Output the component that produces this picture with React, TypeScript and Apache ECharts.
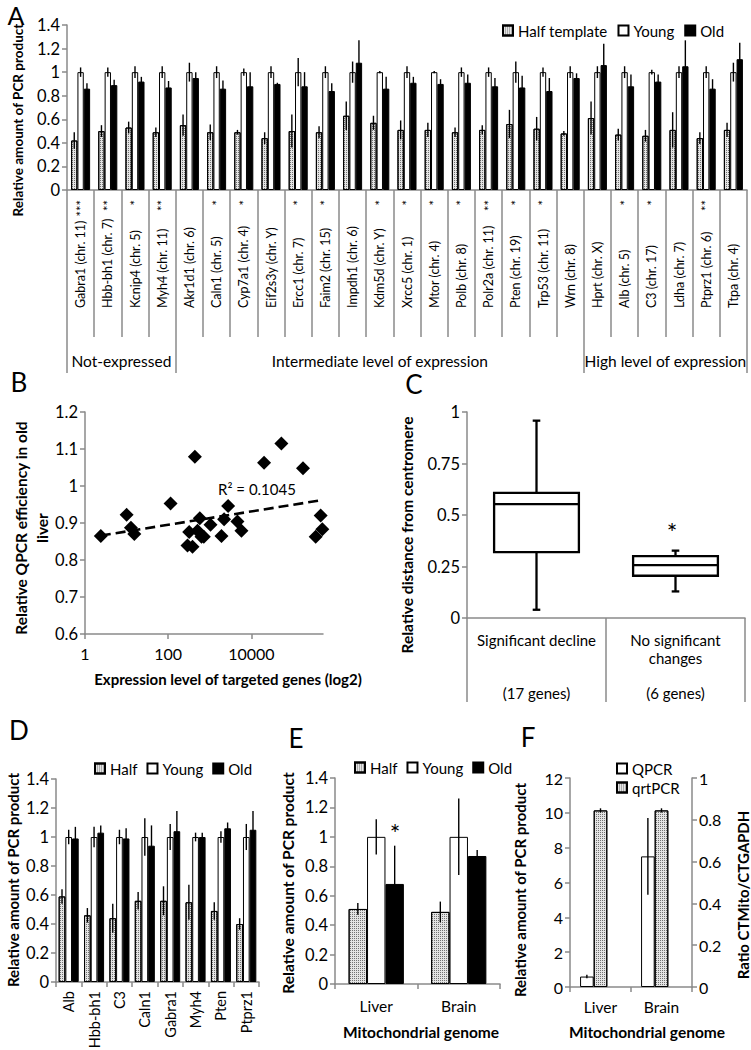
import React, { useEffect, useRef } from "react";
import * as echarts from "echarts";

const FONT = "Lato, 'Noto Sans', 'DejaVu Sans', sans-serif";
const GRAY = "#8a8a8a";

/* ---------- Panel A ---------- */
const genesA = [
  "Gabra1 (chr. 11)", "Hbb-bh1 (chr. 7)", "Kcnip4 (chr. 5)", "Myh4 (chr. 11)",
  "Akr1d1 (chr. 6)", "Caln1 (chr. 5)", "Cyp7a1 (chr. 4)", "Eif2s3y (chr. Y)", "Ercc1 (chr. 7)",
  "Faim2 (chr. 15)", "Impdh1 (chr. 6)", "Kdm5d (chr. Y)", "Xrcc5 (chr. 1)", "Mtor (chr. 4)",
  "Polb (chr. 8)", "Polr2a (chr. 11)", "Pten (chr. 19)", "Trp53 (chr. 11)", "Wrn (chr. 8)",
  "Hprt (chr. X)", "Alb (chr. 5)", "C3 (chr. 17)", "Ldha (chr. 7)", "Ptprz1 (chr. 6)", "Ttpa (chr. 4)",
];
const starsA = ["***", "**", "*", "**", "", "*", "*", "", "*", "*", "", "*", "*", "*", "*", "**", "*", "*", "", "", "*", "*", "", "**", ""];
const groupNamesA = ["Not-expressed", "Intermediate level of expression", "High level of expression"];
const groupSizesA = [4, 15, 6];
const halfA = [0.42, 0.50, 0.53, 0.49, 0.55, 0.49, 0.49, 0.44, 0.50, 0.49, 0.63, 0.57, 0.51, 0.51, 0.49, 0.51, 0.56, 0.52, 0.48, 0.61, 0.47, 0.46, 0.51, 0.44, 0.51];
const halfErrA = [0.07, 0.05, 0.05, 0.04, 0.09, 0.065, 0.02, 0.05, 0.14, 0.05, 0.12, 0.06, 0.08, 0.06, 0.04, 0.04, 0.12, 0.10, 0.02, 0.14, 0.05, 0.05, 0.15, 0.05, 0.06];
const youngA = [1, 1, 1, 1, 1, 1, 1, 1, 1, 1, 1, 1, 1, 1, 1, 1, 1, 1, 1, 1, 1, 1, 1, 1, 1];
const youngErrA = [0.04, 0.04, 0.05, 0.05, 0.08, 0.05, 0.03, 0.05, 0.12, 0.05, 0.09, 0.01, 0.05, 0.01, 0.04, 0.04, 0.09, 0.04, 0.05, 0.05, 0.05, 0.02, 0.05, 0.05, 0.08];
const oldA = [0.86, 0.89, 0.92, 0.87, 0.95, 0.86, 0.88, 0.90, 0.88, 0.84, 1.08, 0.86, 0.91, 0.90, 0.91, 0.88, 0.87, 0.84, 0.95, 1.06, 0.88, 0.92, 1.05, 0.86, 1.11];
const oldErrA = [0.045, 0.045, 0.04, 0.055, 0.05, 0.07, 0.12, 0.01, 0.12, 0.065, 0.19, 0.10, 0.05, 0.04, 0.07, 0.07, 0.10, 0.11, 0.04, 0.18, 0.10, 0.06, 0.22, 0.08, 0.14];

/* ---------- Panel B ---------- */
const exprB = [2.4, 10, 12.7, 15.3, 114, 319, 291, 384, 437, 575, 506, 631, 718, 1038, 1905, 2203, 2754, 4613, 5754, 20140, 52480, 173780, 349950, 461000, 505800];
const effB = [0.865, 0.922, 0.887, 0.870, 0.953, 0.876, 0.839, 0.836, 1.079, 0.913, 0.879, 0.863, 0.863, 0.895, 0.865, 0.910, 0.946, 0.904, 0.879, 1.063, 1.115, 1.048, 0.863, 0.920, 0.883];
const trendXB = [2.4, 505800];
const trendYB = [0.866, 0.962];
const r2B = "R² = 0.1045";

/* ---------- Panel C ---------- */
const groupsC = ["Significant decline", "No significant\nchanges"];
const countsC = ["(17 genes)", "(6 genes)"];
const minC = [0.04, 0.129];
const q1C = [0.32, 0.205];
const medC = [0.553, 0.257];
const q3C = [0.607, 0.30];
const maxC = [0.958, 0.327];

/* ---------- Panel D ---------- */
const genesD = ["Alb", "Hbb-bh1", "C3", "Caln1", "Gabra1", "Myh4", "Pten", "Ptprz1"];
const halfD = [0.59, 0.46, 0.44, 0.56, 0.56, 0.55, 0.49, 0.40];
const halfErrD = [0.05, 0.05, 0.10, 0.06, 0.10, 0.12, 0.06, 0.04];
const youngD = [1, 1, 1, 1, 1, 1, 1, 1];
const youngErrD = [0.05, 0.07, 0.05, 0.13, 0.09, 0.03, 0.04, 0.09];
const oldD = [0.99, 1.03, 0.99, 0.94, 1.04, 1.00, 1.06, 1.05];
const oldErrD = [0.08, 0.05, 0.07, 0.14, 0.14, 0.03, 0.04, 0.13];

/* ---------- Panel E ---------- */
const tissuesE = ["Liver", "Brain"];
const halfE = [0.51, 0.49];
const halfErrE = [0.04, 0.07];
const youngE = [1, 1];
const youngErrE = [0.12, 0.26];
const oldE = [0.68, 0.87];
const oldErrE = [0.26, 0.04];

/* ---------- Panel F ---------- */
const tissuesF = ["Liver", "Brain"];
const qpcrF = [0.6, 7.5];
const qpcrErrF = [0.1, 2.2];
const qrtF = [0.845, 0.845];
const qrtErrF = [0.01, 0.01];

const lineGray = { color: GRAY, width: 1.5 };

const halfStyle = {
  color: "#e4e4e4",
  borderColor: "#000",
  borderWidth: 1,
  decal: {
    symbol: "rect",
    symbolSize: 1,
    color: "rgba(0,0,0,0.5)",
    dashArrayX: [1, 1],
    dashArrayY: [1, 1],
    rotation: 0,
  },
};
const youngStyle = { color: "#fff", borderColor: "#000", borderWidth: 1 };
const oldStyle = { color: "#000", borderColor: "#000", borderWidth: 1 };

function barS(name: string, xi: number, yi: number, data: any[], style: any, gap: string) {
  return {
    type: "bar", name, xAxisIndex: xi, yAxisIndex: yi, data, itemStyle: style,
    barGap: "0%", barCategoryGap: gap, silent: true,
  };
}

function errS(xi: number, yi: number, vals: number[], errs: number[], slot: number, nSlots: number, gapFrac: number) {
  return {
    type: "custom", xAxisIndex: xi, yAxisIndex: yi, silent: true, z: 5,
    encode: { x: 0, y: 1 },
    data: vals.map((v, i) => [i, v, errs[i]]),
    renderItem: (params: any, api: any) => {
      const i = api.value(0), v = api.value(1), e = api.value(2);
      const band = api.size([1, 0])[0];
      const bw = (band * (1 - gapFrac)) / nSlots;
      const off = (slot - (nSlots - 1) / 2) * bw;
      const p1 = api.coord([i, v + e]);
      const p2 = api.coord([i, v - e]);
      const x = p1[0] + off;
      return {
        type: "line",
        shape: { x1: x, y1: p1[1], x2: x, y2: p2[1] },
        style: { stroke: "#000", lineWidth: 1.4 },
      };
    },
  };
}

function yVal(gridIndex: number, min: number, max: number, interval: number, fontSize: number, extra: any = {}) {
  return {
    type: "value", gridIndex, min, max, interval,
    axisLine: { show: true, onZero: false, lineStyle: lineGray },
    axisTick: { show: true, length: 5, lineStyle: lineGray },
    splitLine: { show: false },
    axisLabel: { color: "#000", fontFamily: FONT, fontSize, margin: 7 },
    ...extra,
  };
}

function catX(gridIndex: number, data: string[], tickLen: number, label: any, extra: any = {}) {
  return {
    type: "category", gridIndex, data,
    axisLine: { show: true, onZero: false, lineStyle: lineGray },
    axisTick: { show: true, interval: 0, length: tickLen, lineStyle: lineGray },
    splitLine: { show: false },
    axisLabel: { color: "#000", fontFamily: FONT, interval: 0, ...label },
    ...extra,
  };
}

function T(text: string, x: number, y: number, size: number, bold = false, rot = false, align = "center") {
  return {
    type: "text", x, y, rotation: rot ? Math.PI / 2 : 0, silent: true,
    style: {
      text, fill: "#000",
      font: `${bold ? "bold " : ""}${size}px ${FONT}`,
      align, verticalAlign: "middle",
    },
  };
}

function buildOption() {
  const bounds: number[] = [0];
  groupSizesA.forEach((s) => bounds.push(bounds[bounds.length - 1] + s));
  const centers = groupSizesA.map((s, i) => bounds[i] + s / 2);

  const catLabelsC = groupsC.map((g, i) => {
    const lines = g.split("\n");
    while (lines.length < 3) lines.push("");
    return lines.join("\n") + "\n" + countsC[i];
  });

  const grids = [
    { left: 67, top: 25, width: 680, height: 165 },
    { left: 85, top: 412, width: 238, height: 222 },
    { left: 467, top: 412, width: 278, height: 206 },
    { left: 56, top: 779, width: 203, height: 203 },
    { left: 335, top: 778, width: 165, height: 206 },
    { left: 570, top: 778, width: 122, height: 209 },
  ].map((g) => ({ ...g, containLabel: false, outerBoundsMode: "none" }));

  const xAxis: any[] = [
    // 0: A genes
    catX(0, genesA, 147, { rotate: 90, align: "left", verticalAlign: "middle", margin: 118, fontSize: 12.5 }),
    // 1: A stars
    {
      type: "category", gridIndex: 0, position: "bottom", data: starsA,
      axisLine: { show: false }, axisTick: { show: false }, splitLine: { show: false },
      axisLabel: { color: "#000", fontFamily: FONT, fontSize: 13, interval: 0, rotate: 90, align: "right", verticalAlign: "middle", margin: 10 },
    },
    // 2: A groups
    {
      type: "value", gridIndex: 0, position: "bottom", offset: 147, min: 0, max: bounds[bounds.length - 1],
      axisLine: { show: false },
      axisTick: { show: true, customValues: bounds, length: 36, lineStyle: lineGray },
      splitLine: { show: false },
      axisLabel: {
        customValues: centers,
        formatter: (v: number) => {
          const k = centers.findIndex((c) => Math.abs(c - v) < 1e-6);
          return k >= 0 ? groupNamesA[k] : "";
        },
        color: "#000", fontFamily: FONT, fontSize: 15.5, margin: 16,
      },
    },
    // 3: B log axis
    {
      type: "log", logBase: 100, gridIndex: 1, min: 1, max: 524800,
      axisLine: { show: true, onZero: false, lineStyle: lineGray },
      axisTick: { show: true, length: 5, lineStyle: lineGray },
      minorTick: { show: false }, splitLine: { show: false },
      axisLabel: {
        color: "#000", fontFamily: FONT, fontSize: 16, margin: 11, showMaxLabel: false,
        formatter: (v: number) => String(Math.round(v)),
      },
    },
    // 4: C categories
    catX(2, catLabelsC, 84, { fontSize: 15, lineHeight: 17.7, margin: 13 }),
    // 5: D genes
    catX(3, genesD, 5, { rotate: 90, fontSize: 14.5, margin: 9 }),
    // 6: E tissues
    catX(4, tissuesE, 5, { fontSize: 15.5, margin: 14 }),
    // 7: F tissues
    catX(5, tissuesF, 5, { fontSize: 15.5, margin: 12 }),
  ];

  const yAxis: any[] = [
    yVal(0, 0, 1.4, 0.2, 16.5),
    yVal(1, 0.6, 1.2, 0.1, 16.5),
    yVal(2, 0, 1, 0.25, 16.5),
    yVal(3, 0, 1.4, 0.2, 16.5),
    yVal(4, 0, 1.4, 0.2, 16.5),
    yVal(5, 0, 12, 2, 16),
    yVal(5, 0, 1, 0.2, 16, { position: "right" }),
  ];

  const series: any[] = [
    // A
    barS("Half template", 0, 0, halfA, halfStyle, "30%"),
    barS("Young", 0, 0, youngA, youngStyle, "30%"),
    barS("Old", 0, 0, oldA, oldStyle, "30%"),
    errS(0, 0, halfA, halfErrA, 0, 3, 0.3),
    errS(0, 0, youngA, youngErrA, 1, 3, 0.3),
    errS(0, 0, oldA, oldErrA, 2, 3, 0.3),
    // B
    {
      type: "line", xAxisIndex: 3, yAxisIndex: 1, z: 1, silent: true, symbol: "none",
      data: trendXB.map((x, i) => [x, trendYB[i]]),
      lineStyle: { color: "#000", width: 2.6, type: [10, 5] },
    },
    {
      type: "scatter", xAxisIndex: 3, yAxisIndex: 1, z: 3, silent: true, symbol: "diamond", symbolSize: 14,
      data: exprB.map((x, i) => [x, effB[i]]),
      itemStyle: { color: "#000", opacity: 1 },
    },
    // C
    {
      type: "custom", xAxisIndex: 4, yAxisIndex: 2, silent: true,
      encode: { x: 0, y: [1, 2, 3, 4, 5] },
      data: groupsC.map((g, i) => [i, minC[i], q1C[i], medC[i], q3C[i], maxC[i]]),
      renderItem: (params: any, api: any) => {
        const i = api.value(0);
        const mn = api.value(1), q1 = api.value(2), md = api.value(3), q3 = api.value(4), mx = api.value(5);
        const band = api.size([1, 0])[0];
        const w = band * 0.61;
        const cx = api.coord([i, md])[0];
        const y = (v: number) => api.coord([i, v])[1];
        const st = { stroke: "#000", lineWidth: 2.3 };
        return {
          type: "group",
          children: [
            { type: "line", shape: { x1: cx, y1: y(mx), x2: cx, y2: y(q3) }, style: st },
            { type: "line", shape: { x1: cx, y1: y(q1), x2: cx, y2: y(mn) }, style: st },
            { type: "line", shape: { x1: cx - 3.8, y1: y(mx), x2: cx + 3.8, y2: y(mx) }, style: st },
            { type: "line", shape: { x1: cx - 3.8, y1: y(mn), x2: cx + 3.8, y2: y(mn) }, style: st },
            { type: "rect", shape: { x: cx - w / 2, y: y(q3), width: w, height: y(q1) - y(q3) }, style: { stroke: "#000", lineWidth: 2.3, fill: "#fff" } },
            { type: "line", shape: { x1: cx - w / 2, y1: y(md), x2: cx + w / 2, y2: y(md) }, style: st },
          ],
        };
      },
    },
    // D
    barS("Half", 5, 3, halfD, halfStyle, "21%"),
    barS("Young", 5, 3, youngD, youngStyle, "21%"),
    barS("Old", 5, 3, oldD, oldStyle, "21%"),
    errS(5, 3, halfD, halfErrD, 0, 3, 0.21),
    errS(5, 3, youngD, youngErrD, 1, 3, 0.21),
    errS(5, 3, oldD, oldErrD, 2, 3, 0.21),
    // E
    barS("Half", 6, 4, halfE, halfStyle, "33%"),
    barS("Young", 6, 4, youngE, youngStyle, "33%"),
    barS("Old", 6, 4, oldE, oldStyle, "33%"),
    errS(6, 4, halfE, halfErrE, 0, 3, 0.33),
    errS(6, 4, youngE, youngErrE, 1, 3, 0.33),
    errS(6, 4, oldE, oldErrE, 2, 3, 0.33),
    // F
    barS("QPCR", 7, 5, qpcrF, youngStyle, "33%"),
    barS("qrtPCR", 7, 6, qrtF, halfStyle, "33%"),
    barS("spacer", 7, 5, tissuesF.map(() => "-"), youngStyle, "33%"),
    errS(7, 5, qpcrF, qpcrErrF, 0, 3, 0.33),
    errS(7, 6, qrtF, qrtErrF, 1, 3, 0.33),
  ];

  const legendBase = {
    icon: "rect", itemWidth: 10, itemHeight: 10, selectedMode: false, padding: 0,
    textStyle: { color: "#000", fontFamily: FONT, fontSize: 15 },
  };

  return {
    animation: false,
    backgroundColor: "#fff",
    textStyle: { fontFamily: FONT },
    grid: grids,
    xAxis,
    yAxis,
    series,
    legend: [
      { ...legendBase, data: ["Half template", "Young", "Old"], left: 502, top: 23, itemGap: 10 },
      { ...legendBase, data: ["Half", "Young", "Old"], left: 94, top: 761, itemGap: 9 },
      { ...legendBase, data: ["Half", "Young", "Old"], left: 354, top: 760, itemGap: 9 },
      { ...legendBase, data: ["QPCR", "qrtPCR"], left: 616, top: 761, orient: "vertical", itemGap: 4 },
    ],
    graphic: [
      T("A", 16, 15, 25),
      T("B", 19, 382, 26),
      T("C", 414, 384, 26),
      T("D", 19, 730, 26),
      T("E", 296, 738, 26),
      T("F", 528, 737, 26),
      T("Relative amount of PCR product", 18, 120, 13.5, true, true),
      T("Relative QPCR efficiency in old", 21, 528, 15.5, true, true),
      T("liver", 42, 528, 15.5, true, true),
      T("Expression level of targeted genes (log2)", 228, 679, 15, true),
      T(r2B, 257, 489, 15),
      T("Relative distance from centromere", 407, 535, 15.5, true, true),
      T("*", 672, 532, 25),
      T("Relative amount of PCR product", 13, 880, 15, true, true),
      T("Relative amount of PCR product", 288, 883, 15.5, true, true),
      T("Mitochondrial genome", 421, 1032, 15.5, true),
      T("*", 395, 833, 25),
      T("Relative amount of PCR product", 520, 890, 15, true, true),
      T("Ratio CTMito/CTGAPDH", 743, 895, 15, true, true),
      T("Mitochondrial genome", 647, 1032, 15.5, true),
    ],
  };
}

export default function App() {
  const ref = useRef<HTMLDivElement>(null);
  useEffect(() => {
    const chart = echarts.init(ref.current as HTMLDivElement, null, { renderer: "svg", width: 751, height: 1050 });
    chart.setOption(buildOption() as any);
    return () => chart.dispose();
  }, []);
  return (
    <div
      ref={ref}
      style={{ position: "absolute", left: 0, top: 0, width: 751, height: 1050, background: "#fff" }}
    />
  );
}
